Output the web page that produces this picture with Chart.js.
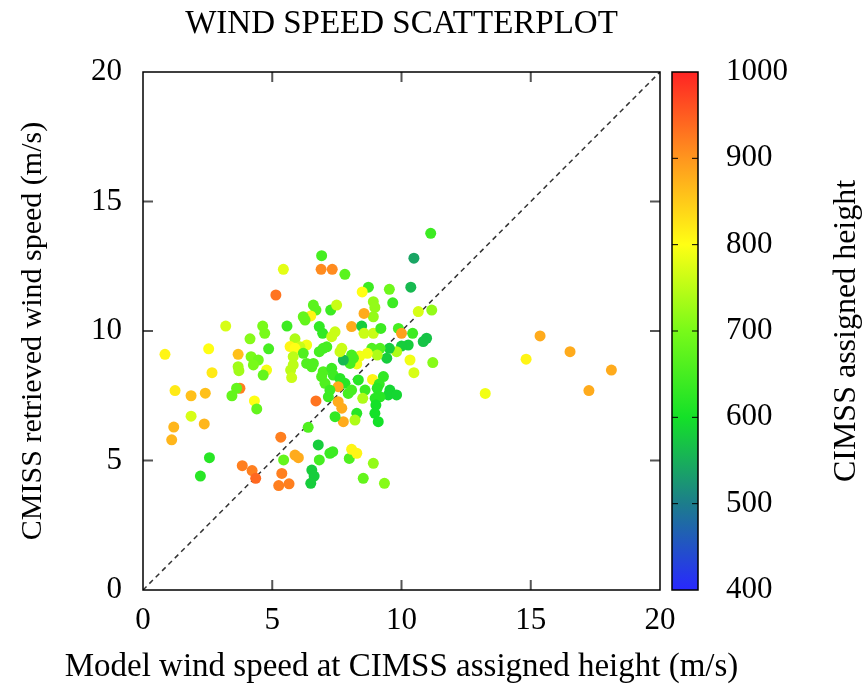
<!DOCTYPE html>
<html>
<head>
<meta charset="utf-8">
<script src="https://cdn.jsdelivr.net/npm/chart.js@4"></script>
<style>
  body { margin: 0; background: #fff; }
  #wrap { width: 863px; height: 688px; }
</style>
</head>
<body>
<div id="wrap"><canvas id="chart" width="863" height="688"></canvas></div>
<script>
// model wind speed (m/s)
var modelSpeed = [5.43, 5.14, 3.20, 4.63, 4.71, 5.57, 4.14, 4.86, 5.88, 5.69, 0.85, 2.54, 3.68, 2.67, 4.18, 4.46, 4.27, 3.68, 3.71, 4.78,
    4.65, 5.71, 5.75, 3.75, 3.62, 3.44, 1.24, 1.86, 2.41, 4.31, 4.40, 1.86, 1.19, 2.37, 1.11, 5.33, 2.57, 2.22, 3.84, 4.22,
    4.36, 5.44, 5.88, 6.01, 5.37, 5.25, 5.65, 11.13, 10.48, 6.91, 6.89, 7.32, 7.81, 10.36, 8.72, 9.53, 8.48, 8.91, 8.97, 8.91,
    9.66, 8.55, 6.59, 6.69, 7.26, 7.49, 6.49, 6.27, 6.20, 6.82, 6.95, 7.43, 7.30, 8.07, 8.46, 8.55, 8.91, 9.20, 9.88, 10.00,
    10.43, 10.97, 10.84, 10.65, 11.17, 10.26, 10.00, 9.81, 10.33, 11.21, 10.48, 9.53, 9.43, 9.17, 8.85, 9.06, 8.68, 8.39, 8.27, 8.07,
    8.14, 8.01, 7.75, 7.62, 7.69, 7.11, 6.97, 6.82, 6.33, 6.07, 5.88, 6.20, 6.33, 6.53, 6.59, 5.81, 5.81, 6.97, 6.91, 7.04,
    7.30, 7.36, 7.62, 7.81, 8.33, 8.88, 9.30, 9.14, 9.55, 9.49, 9.81, 9.06, 9.17, 8.98, 9.01, 8.97, 9.10, 8.59, 8.50, 8.07,
    7.94, 7.55, 7.55, 7.69, 7.75, 7.17, 7.23, 6.69, 7.43, 8.27, 8.20, 6.39, 6.78, 7.23, 7.34, 6.82, 7.98, 8.07, 8.27, 8.91,
    6.53, 6.62, 6.49, 8.52, 9.34, 15.36, 14.82, 16.52, 18.12, 17.25, 13.24];
// retrieved wind speed (m/s)
var retrievedSpeed = [12.38, 11.39, 10.19, 10.19, 9.91, 10.19, 9.70, 9.31, 9.70, 9.40, 9.10, 9.31, 9.10, 8.39, 9.01, 8.88, 8.69, 8.62, 8.47, 8.49,
    8.30, 8.49, 8.20, 7.79, 7.79, 7.50, 7.70, 7.50, 7.60, 7.30, 6.99, 6.71, 6.29, 6.41, 5.80, 5.90, 5.11, 4.40, 4.80, 4.61,
    4.31, 5.02, 5.21, 5.11, 4.50, 4.03, 4.10, 13.77, 12.81, 12.91, 12.38, 12.38, 12.19, 11.69, 11.69, 11.61, 11.51, 11.13, 10.91, 10.55,
    11.09, 10.68, 11.00, 10.81, 10.81, 11.00, 10.58, 10.42, 10.55, 10.17, 9.91, 9.97, 9.78, 10.17, 10.19, 9.91, 9.91, 10.10, 10.10, 9.91,
    9.91, 9.72, 9.59, 10.75, 10.81, 9.46, 9.42, 9.20, 8.88, 8.78, 8.39, 9.33, 8.95, 9.33, 9.33, 9.07, 9.14, 9.03, 8.73, 9.07,
    8.95, 8.75, 8.88, 9.20, 9.33, 9.39, 9.33, 9.20, 9.46, 9.39, 9.33, 9.14, 8.75, 8.62, 8.75, 9.01, 8.69, 8.43, 8.24, 7.98,
    8.56, 8.30, 8.17, 7.98, 8.11, 8.13, 8.24, 7.95, 7.72, 7.53, 7.53, 7.79, 7.46, 7.40, 7.14, 6.82, 6.50, 7.72, 7.40, 7.72,
    7.59, 7.85, 7.27, 7.02, 6.50, 7.46, 7.72, 7.30, 6.69, 6.82, 6.56, 6.28, 5.60, 5.28, 5.34, 5.02, 5.08, 5.43, 5.28, 4.89,
    4.63, 4.40, 4.12, 4.31, 4.12, 9.81, 8.91, 9.20, 8.49, 7.70, 7.59];
// CIMSS assigned height (hPa)
var assignedHeight = [780, 930, 770, 700, 700, 640, 710, 650, 740, 810, 810, 800, 860, 820, 700, 690, 700, 730, 730, 790,
    680, 750, 760, 920, 680, 680, 820, 860, 860, 800, 680, 770, 870, 870, 870, 920, 620, 620, 920, 920,
    940, 680, 880, 880, 920, 920, 920, 640, 540, 650, 910, 910, 670, 560, 640, 690, 800, 720, 720, 720,
    640, 880, 670, 670, 640, 760, 810, 680, 680, 630, 630, 760, 760, 880, 580, 760, 760, 640, 650, 890,
    640, 570, 570, 770, 720, 580, 580, 740, 790, 710, 770, 580, 580, 660, 660, 740, 790, 790, 790, 650,
    650, 650, 560, 760, 760, 650, 650, 650, 790, 760, 800, 660, 660, 660, 660, 750, 750, 660, 660, 660,
    640, 640, 620, 620, 620, 810, 630, 630, 590, 590, 590, 620, 620, 620, 600, 600, 600, 640, 740, 650,
    650, 880, 880, 880, 880, 640, 640, 930, 630, 620, 740, 660, 580, 640, 640, 650, 660, 810, 810, 720,
    580, 580, 580, 680, 710, 880, 810, 880, 880, 880, 790];

var diagLine = [0, 20];
var speedTicks = [0, 5, 10, 15, 20];
var heightTicks = [400, 500, 600, 700, 800, 900, 1000];

// colour map used by the points and the colour bar
var cmap = [
    [400, [40, 40, 255]],
    [500, [28, 125, 140]],
    [600, [20, 225, 40]],
    [700, [120, 250, 25]],
    [800, [255, 255, 20]],
    [900, [255, 150, 30]],
    [1000, [255, 35, 35]]
];

function heightColor(h){
    for(var i = 1; i < cmap.length; i++){
        if(h <= cmap[i][0]){
            var t = (h - cmap[i - 1][0]) / (cmap[i][0] - cmap[i - 1][0]);
            var a = cmap[i - 1][1], b = cmap[i][1];
            return `rgb(${Math.round(a[0] + (b[0] - a[0]) * t)}, ${Math.round(a[1] + (b[1] - a[1]) * t)}, ${Math.round(a[2] + (b[2] - a[2]) * t)})`;
        }
    }
    var last = cmap[cmap.length - 1][1];
    return `rgb(${last[0]}, ${last[1]}, ${last[2]})`;
}

var points = modelSpeed.map((v, i) => ({x: v, y: retrievedSpeed[i]}));
var serif = "'Liberation Serif', 'DejaVu Serif', serif";

// frame, inward ticks, titles and colour bar
var framePlugin = {
    id: "frame",
    afterDraw(chart){
        var ctx = chart.ctx;
        var a = chart.chartArea;
        var sx = chart.scales.x, sy = chart.scales.y, sc = chart.scales.c;
        ctx.save();

        ctx.strokeStyle = "#555";
        ctx.lineWidth = 2;
        speedTicks.slice(1, -1).forEach(v => {
            var px = sx.getPixelForValue(v);
            var py = sy.getPixelForValue(v);
            ctx.beginPath();
            ctx.moveTo(px, a.bottom); ctx.lineTo(px, a.bottom - 10);
            ctx.moveTo(px, a.top); ctx.lineTo(px, a.top + 10);
            ctx.moveTo(a.left, py); ctx.lineTo(a.left + 10, py);
            ctx.moveTo(a.right, py); ctx.lineTo(a.right - 10, py);
            ctx.stroke();
        });

        ctx.strokeStyle = "#000";
        ctx.lineWidth = 1.5;
        ctx.strokeRect(a.left, a.top, a.right - a.left, a.bottom - a.top);

        // colour bar
        var cbL = sc.left + 12, cbR = sc.left + 38;
        var cTop = sc.getPixelForValue(1000), cBot = sc.getPixelForValue(400);
        var grad = ctx.createLinearGradient(0, cBot, 0, cTop);
        cmap.forEach(s => grad.addColorStop((s[0] - 400) / 600, heightColor(s[0])));
        ctx.fillStyle = grad;
        ctx.fillRect(cbL, cTop, cbR - cbL, cBot - cTop);
        ctx.strokeStyle = "#000";
        ctx.lineWidth = 1.5;
        ctx.strokeRect(cbL, cTop, cbR - cbL, cBot - cTop);
        ctx.lineWidth = 1;
        heightTicks.slice(1, -1).forEach(v => {
            var py = sc.getPixelForValue(v);
            ctx.beginPath();
            ctx.moveTo(cbL, py); ctx.lineTo(cbL + 6, py);
            ctx.moveTo(cbR, py); ctx.lineTo(cbR - 6, py);
            ctx.stroke();
        });

        ctx.fillStyle = "#000";
        ctx.textAlign = "center";
        ctx.textBaseline = "middle";
        ctx.font = `33px ${serif}`;
        ctx.fillText("WIND SPEED SCATTERPLOT", (a.left + a.right) / 2, 24);
        ctx.fillText("Model wind speed at CIMSS assigned height (m/s)", (a.left + a.right) / 2, 667);

        ctx.font = `32px ${serif}`;
        ctx.translate(847, (a.top + a.bottom) / 2);
        ctx.rotate(-Math.PI / 2);
        ctx.fillText("CIMSS assigned height", 0, 0);
        ctx.restore();
    }
};

var chart = new Chart(document.getElementById("chart"), {
    type: "scatter",
    data: {
        datasets: [{
            data: points,
            pointRadius: 5.5,
            pointHoverRadius: 5.5,
            borderWidth: 0,
            backgroundColor: (c) => heightColor(assignedHeight[c.dataIndex])
        }, {
            type: "line",
            data: diagLine.map(v => ({x: v, y: v})),
            borderColor: "#333",
            borderWidth: 1.5,
            borderDash: [5, 4],
            pointRadius: 0,
            fill: false
        }]
    },
    options: {
        responsive: false,
        animation: false,
        layout: { padding: { top: 72, left: 0, right: 0, bottom: 0 } },
        plugins: { legend: { display: false }, tooltip: { enabled: false } },
        scales: {
            x: {
                type: "linear", min: 0, max: 20,
                grid: { display: false, drawTicks: false },
                border: { display: false },
                ticks: { stepSize: 5, padding: 12, color: "#000", font: { family: serif, size: 31 } },
                afterFit: (s) => { s.height = 98; }
            },
            y: {
                type: "linear", min: 0, max: 20,
                grid: { display: false, drawTicks: false },
                border: { display: false },
                ticks: { stepSize: 5, padding: 21, color: "#000", font: { family: serif, size: 31 } },
                title: { display: true, text: "CMISS retrieved wind speed (m/s)", color: "#000",
                    font: { family: serif, size: 30 }, padding: { top: 15, bottom: 0 } },
                afterFit: (s) => { s.width = 143; }
            },
            c: {
                type: "linear", position: "right", min: 400, max: 1000,
                grid: { display: false, drawTicks: true, tickLength: 60 },
                border: { display: false },
                ticks: { stepSize: 100, padding: 6, color: "#000", font: { family: serif, size: 31 },
                    callback: (v) => String(v) },
                afterFit: (s) => { s.width = 203; }
            }
        }
    },
    plugins: [framePlugin]
});
</script>
</body>
</html>
